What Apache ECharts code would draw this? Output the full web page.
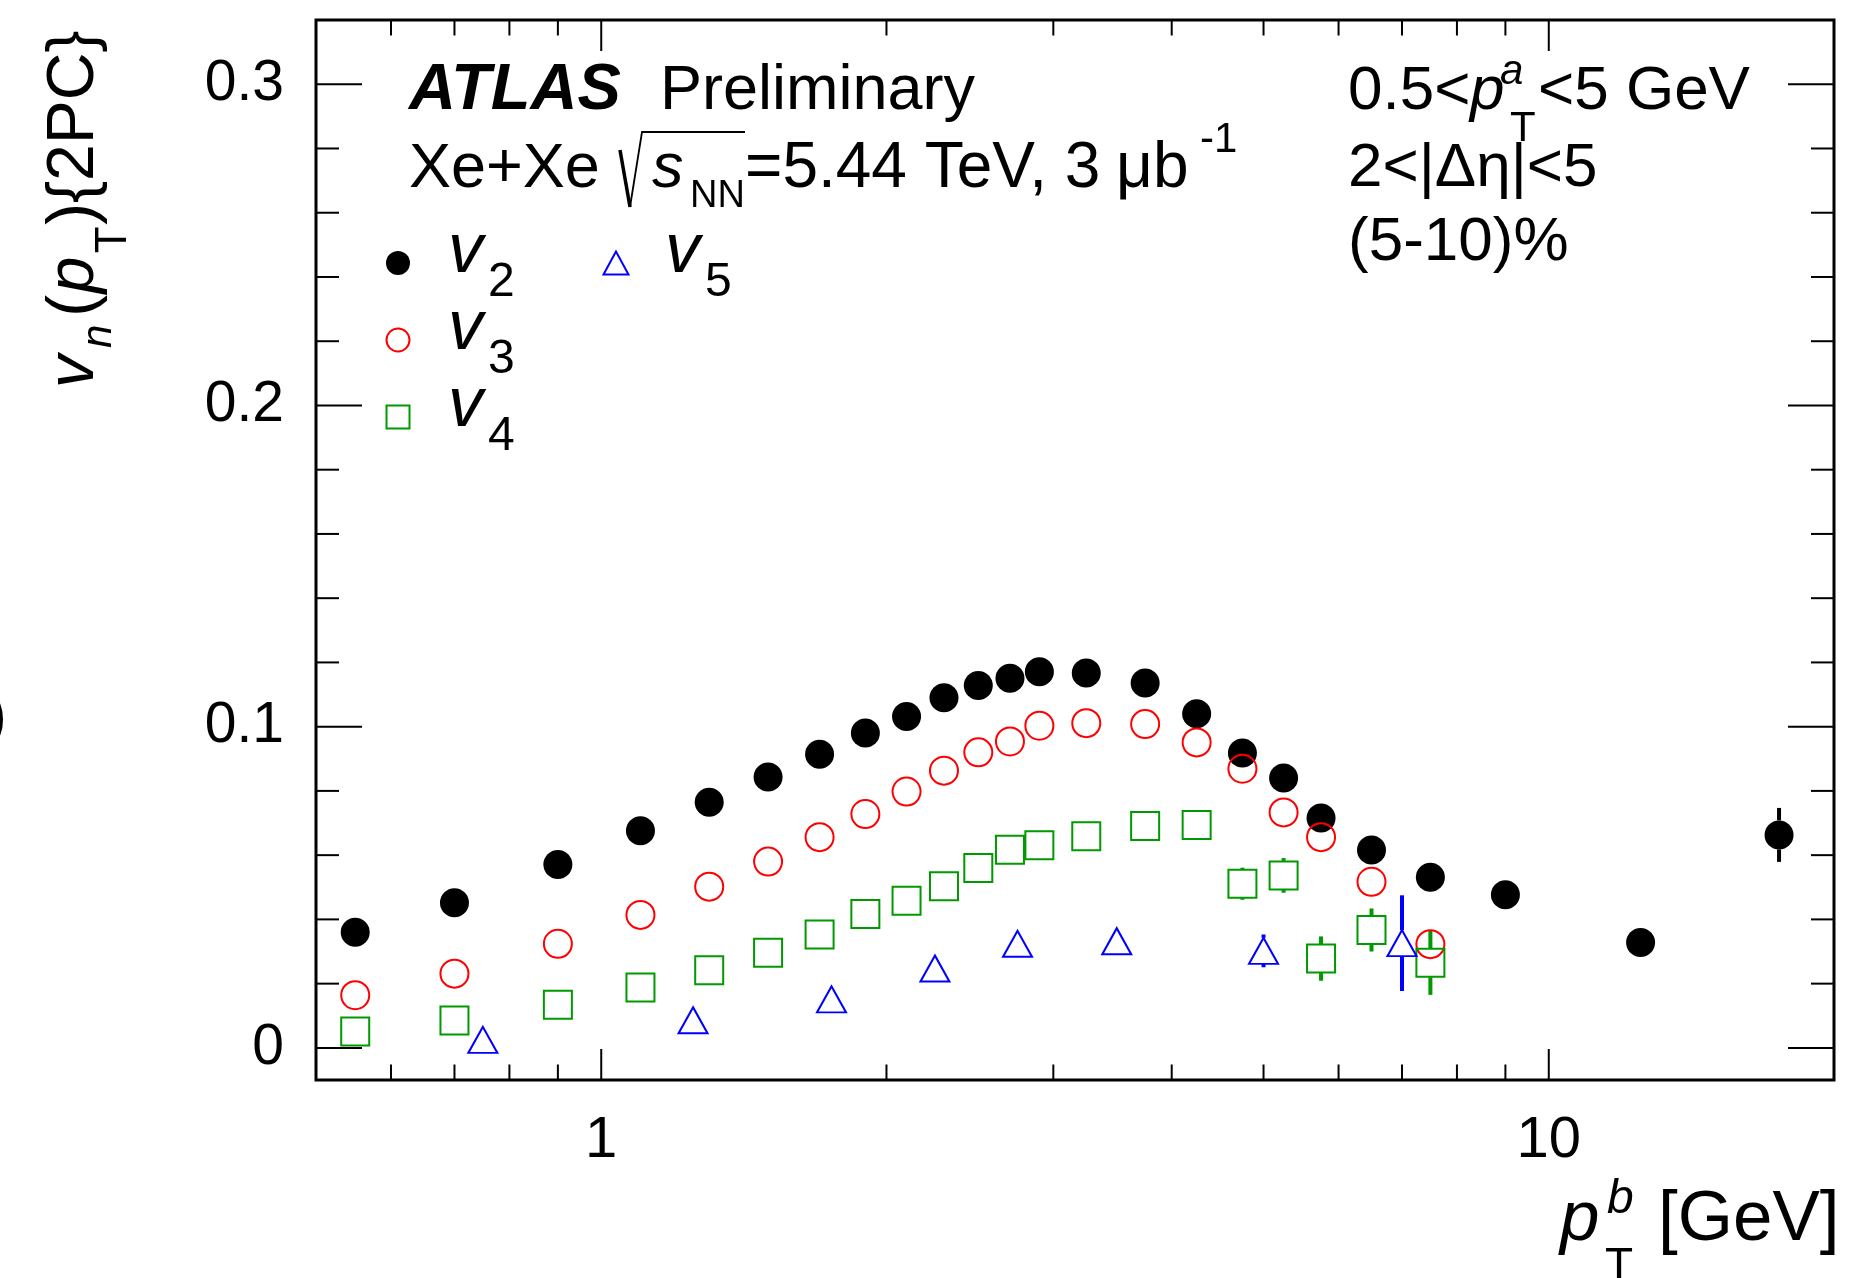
<!DOCTYPE html>
<html>
<head>
<meta charset="utf-8">
<title>v_n(pT){2PC} Xe+Xe 5.44 TeV</title>
<script src="https://cdn.jsdelivr.net/npm/echarts@6.0.0/dist/echarts.min.js"></script>
<style>
html, body { margin: 0; padding: 0; background: #ffffff; }
#chart { width: 1869px; height: 1278px; }
</style>
</head>
<body>
<div id="chart"></div>
<script>
// pT^b bin centres [GeV]
const ptBins = [0.55, 0.7, 0.9, 1.1, 1.3, 1.5, 1.7, 1.9, 2.1, 2.3, 2.5, 2.7, 2.9, 3.25, 3.75, 4.25, 4.75, 5.25, 5.75, 6.5, 7.5, 9, 12.5, 17.5];

// v2 (all bins)
const v2Values = [0.0360, 0.0452, 0.0571, 0.0676, 0.0765, 0.0843, 0.0914, 0.0980, 0.1032, 0.1090, 0.1128, 0.1151,
                  0.1171, 0.1167, 0.1136, 0.1040, 0.0918, 0.0840, 0.0716, 0.0616, 0.0531, 0.0477, 0.0328, 0.0663];
const v2Errors = [null, null, null, null, null, null, null, null, null, null, null, null,
                  null, null, null, null, null, null, null, null, null, null, null, 0.0084];

// v3 (first 21 bins)
const v3Values = [0.0164, 0.0231, 0.0324, 0.0414, 0.0502, 0.0580, 0.0656, 0.0728, 0.0798, 0.0863, 0.0920,
                  0.0954, 0.1003, 0.1011, 0.1008, 0.0951, 0.0869, 0.0733, 0.0656, 0.0517, 0.0323];

// v4 (first 21 bins)
const v4Values = [0.0051, 0.0085, 0.0134, 0.0188, 0.0242, 0.0296, 0.0353, 0.0417, 0.0458, 0.0503, 0.0560,
                  0.0617, 0.0631, 0.0659, 0.0691, 0.0694, 0.0511, 0.0537, 0.0278, 0.0367, 0.0265];
const v4Errors = [null, null, null, null, null, null, null, null, null, null, null,
                  null, null, null, null, null, 0.0050, 0.0054, 0.0069, 0.0067, 0.0100];

// v5 (coarser binning)
const v5Bins   = [0.75, 1.25, 1.75, 2.25, 2.75, 3.5, 5.0, 7.0];
const v5Values = [0.0025, 0.0086, 0.0151, 0.0247, 0.0324, 0.0332, 0.0302, 0.0326];
const v5Errors = [null, null, null, null, null, null, 0.0051, 0.0149];

// axis ticks and labels
const xMajorTicks = [1, 10];
const xTickLabels = ['1', '10'];
const xMinorTicks = [0.6, 0.7, 0.8, 0.9, 2, 3, 4, 5, 6, 7, 8, 9];
const yMajorTicks = [0, 0.1, 0.2, 0.3];
const yTickLabels = ['0', '0.1', '0.2', '0.3'];
const yMinorTicks = [0.02, 0.04, 0.06, 0.08, 0.12, 0.14, 0.16, 0.18, 0.22, 0.24, 0.26, 0.28];

const X_MIN = 0.5, X_MAX = 20, Y_MIN = -0.01, Y_MAX = 0.32;

const FONT = 'Liberation Sans';
const BLACK = '#000000', RED = '#ff0000', GREEN = '#009900', BLUE = '#0000ff';

// ---- text helpers: place a run of text with its alphabetic baseline at a given y ----
const mctx = document.createElement('canvas').getContext('2d');
function fontStr(size, italic, bold) {
  return (italic ? 'italic ' : 'normal ') + (bold ? 'bold ' : 'normal ') + size + 'px "' + FONT + '"';
}
function piece(text, x, baseline, size, opt) {
  opt = opt || {};
  const f = fontStr(size, opt.italic, opt.bold);
  mctx.font = f;
  mctx.textBaseline = 'middle';
  const d = mctx.measureText('x').actualBoundingBoxDescent; // middle line -> baseline
  const align = opt.align || 'left';
  return {
    type: 'text', x: x, y: baseline - d, silent: true,
    style: { text: text, font: f, fill: opt.color || BLACK,
             align: align, verticalAlign: 'middle', textAlign: align, textVerticalAlign: 'middle' }
  };
}

// ---- series helpers ----
const pairs = (xs, ys) => ys.map((y, i) => [xs[i], y]);

function errorBars(name, xs, ys, errs, color, gap) {
  const data = [];
  errs.forEach((e, i) => { if (e != null) data.push([xs[i], ys[i], e]); });
  return {
    type: 'custom', name: name, data: data, silent: true, clip: false, z: 2,
    encode: { x: 0, y: 1 },
    renderItem: function (params, api) {
      const x = api.value(0), y = api.value(1), e = api.value(2);
      const c = api.coord([x, y]);
      const top = api.coord([x, y + e])[1];
      const bot = api.coord([x, y - e])[1];
      const children = [];
      const st = { stroke: color, lineWidth: 4 };
      if (c[1] - gap > top) children.push({ type: 'line', shape: { x1: c[0], y1: top, x2: c[0], y2: c[1] - gap }, style: st });
      if (bot > c[1] + gap) children.push({ type: 'line', shape: { x1: c[0], y1: c[1] + gap, x2: c[0], y2: bot }, style: st });
      return { type: 'group', children: children };
    }
  };
}

function xTickSeries() {
  const data = xMajorTicks.map(v => [v, Y_MIN, 1]).concat(xMinorTicks.map(v => [v, Y_MIN, 0]));
  return {
    type: 'custom', name: 'xticks', data: data, silent: true, clip: false, z: 5,
    encode: { x: 0, y: 1 },
    renderItem: function (params, api) {
      const cs = params.coordSys;
      const px = api.coord([api.value(0), Y_MIN])[0];
      const len = api.value(2) ? 31 : 15.5;
      const st = { stroke: BLACK, lineWidth: 2 };
      return { type: 'group', children: [
        { type: 'line', shape: { x1: px, y1: cs.y + cs.height, x2: px, y2: cs.y + cs.height - len }, style: st },
        { type: 'line', shape: { x1: px, y1: cs.y, x2: px, y2: cs.y + len }, style: st }
      ] };
    }
  };
}

function yTickSeries() {
  const data = yMajorTicks.map(v => [X_MIN, v, 1]).concat(yMinorTicks.map(v => [X_MIN, v, 0]));
  return {
    type: 'custom', name: 'yticks', data: data, silent: true, clip: false, z: 5,
    encode: { x: 0, y: 1 },
    renderItem: function (params, api) {
      const cs = params.coordSys;
      const py = api.coord([X_MIN, api.value(1)])[1];
      const len = api.value(2) ? 46 : 23;
      const st = { stroke: BLACK, lineWidth: 2 };
      return { type: 'group', children: [
        { type: 'line', shape: { x1: cs.x, y1: py, x2: cs.x + len, y2: py }, style: st },
        { type: 'line', shape: { x1: cs.x + cs.width, y1: py, x2: cs.x + cs.width - len, y2: py }, style: st }
      ] };
    }
  };
}

function matchLabel(ticks, labels, v) {
  const i = ticks.findIndex(t => Math.abs(t - v) <= 1e-6 * Math.max(1e-3, Math.abs(t)));
  return i >= 0 ? labels[i] : '';
}

// ---- annotations, legend and axis titles ----
const graphics = [];
// ATLAS label and collision system
graphics.push(piece('ATLAS', 409, 109, 65, { italic: true, bold: true }));
graphics.push(piece('Preliminary', 660, 109, 63));
graphics.push(piece('Xe+Xe', 409, 187, 63));
graphics.push({ type: 'polyline', silent: true, shape: { points: [[620, 150], [630, 207]] }, style: { stroke: BLACK, lineWidth: 3.5, fill: null } });
graphics.push({ type: 'polyline', silent: true, shape: { points: [[630, 207], [642, 132], [745, 132]] }, style: { stroke: BLACK, lineWidth: 1.8, fill: null } });
graphics.push(piece('s', 652, 187, 63, { italic: true }));
graphics.push(piece('NN', 690, 207, 38));
graphics.push(piece('=5.44 TeV, 3', 745, 187, 64));
graphics.push(piece('\u03bcb', 1116, 187, 64));
graphics.push(piece('-1', 1200, 152, 42));
// selection cuts
graphics.push(piece('0.5<', 1348, 109, 62));
graphics.push(piece('p', 1470, 109, 62, { italic: true }));
graphics.push(piece('a', 1500, 84, 42, { italic: true }));
graphics.push(piece('T', 1510, 141, 42));
graphics.push(piece('<5 GeV', 1538, 109, 62));
graphics.push(piece('2<|\u0394\u03b7|<5', 1348, 186, 62));
graphics.push(piece('(5-10)%', 1348, 260, 62));
// legend
graphics.push({ type: 'circle', silent: true, shape: { cx: 398, cy: 263, r: 12 }, style: { fill: BLACK } });
graphics.push({ type: 'circle', silent: true, shape: { cx: 398, cy: 340, r: 11.5 }, style: { fill: 'none', stroke: RED, lineWidth: 2 } });
graphics.push({ type: 'rect', silent: true, shape: { x: 386.5, y: 405.5, width: 23, height: 23 }, style: { fill: 'none', stroke: GREEN, lineWidth: 2 } });
graphics.push({ type: 'polygon', silent: true, shape: { points: [[616, 251.5], [603.5, 274.5], [628.5, 274.5]] }, style: { fill: 'none', stroke: BLUE, lineWidth: 2 } });
[['2', 448, 263], ['3', 448, 340], ['4', 448, 417], ['5', 665, 263]].forEach(function (e) {
  graphics.push(piece('v', e[1], e[2] + 9, 70, { italic: true }));
  graphics.push(piece(e[0], e[1] + 40, e[2] + 33, 48));
});
// x-axis title
graphics.push(piece('p', 1560, 1240, 71, { italic: true }));
graphics.push(piece('b', 1607, 1213, 48, { italic: true }));
graphics.push(piece('T', 1605, 1280, 46));
graphics.push(piece('[GeV]', 1658, 1240, 71));
// y-axis title (rotated, reads bottom to top)
graphics.push({
  type: 'group', x: 93, y: 388, rotation: Math.PI / 2, silent: true,
  children: [
    piece('v', 0, 0, 66, { italic: true }),
    piece('n', 40, 18.4, 42, { italic: true }),
    piece('(', 71.3, 0, 66),
    piece('p', 94.7, 0, 66, { italic: true }),
    piece('T', 134.7, 33.4, 44),
    piece('){2PC}', 163, 0, 66)
  ]
});
// text fragment at the left edge
graphics.push(piece(')', 7, 735, 62, { align: 'right' }));

const option = {
  animation: false,
  backgroundColor: '#ffffff',
  grid: {
    left: 316, top: 20, width: 1518, height: 1060,
    show: true, borderColor: BLACK, borderWidth: 3, backgroundColor: 'transparent',
    containLabel: false, outerBoundsMode: 'none'
  },
  xAxis: {
    type: 'log', logBase: 10, min: X_MIN, max: X_MAX,
    axisLine: { show: false }, axisTick: { show: false }, splitLine: { show: false }, minorTick: { show: false },
    axisLabel: {
      margin: 32, color: BLACK, fontFamily: FONT, fontSize: 58,
      formatter: v => matchLabel(xMajorTicks, xTickLabels, v)
    }
  },
  yAxis: {
    type: 'value', min: Y_MIN, max: Y_MAX, splitNumber: 3,
    axisLine: { show: false }, axisTick: { show: false }, splitLine: { show: false }, minorTick: { show: false },
    axisLabel: {
      margin: 32, color: BLACK, fontFamily: FONT, fontSize: 57, padding: [0, 0, 14, 0],
      formatter: v => matchLabel(yMajorTicks, yTickLabels, v)
    }
  },
  series: [
    xTickSeries(),
    yTickSeries(),
    errorBars('v2 err', ptBins, v2Values, v2Errors, BLACK, 14.5),
    { type: 'scatter', name: 'v2', data: pairs(ptBins, v2Values), symbol: 'circle', symbolSize: 29, z: 2,
      itemStyle: { color: BLACK, opacity: 1 }, emphasis: { disabled: true } },
    { type: 'scatter', name: 'v3', data: pairs(ptBins, v3Values), symbol: 'circle', symbolSize: 28, z: 2,
      itemStyle: { color: 'rgba(0,0,0,0)', borderColor: RED, borderWidth: 2, opacity: 1 }, emphasis: { disabled: true } },
    errorBars('v4 err', ptBins, v4Values, v4Errors, GREEN, 14.5),
    { type: 'scatter', name: 'v4', data: pairs(ptBins, v4Values), symbol: 'rect', symbolSize: 28, z: 2,
      itemStyle: { color: 'rgba(0,0,0,0)', borderColor: GREEN, borderWidth: 2, opacity: 1 }, emphasis: { disabled: true } },
    errorBars('v5 err', v5Bins, v5Values, v5Errors, BLUE, 13),
    { type: 'scatter', name: 'v5', data: pairs(v5Bins, v5Values), symbol: 'triangle', symbolSize: [29, 26], z: 2,
      itemStyle: { color: 'rgba(0,0,0,0)', borderColor: BLUE, borderWidth: 2, opacity: 1 }, emphasis: { disabled: true } }
  ],
  graphic: { elements: graphics }
};

const chart = echarts.init(document.getElementById('chart'), null, { renderer: 'canvas', width: 1869, height: 1278 });
chart.setOption(option);
</script>
</body>
</html>
